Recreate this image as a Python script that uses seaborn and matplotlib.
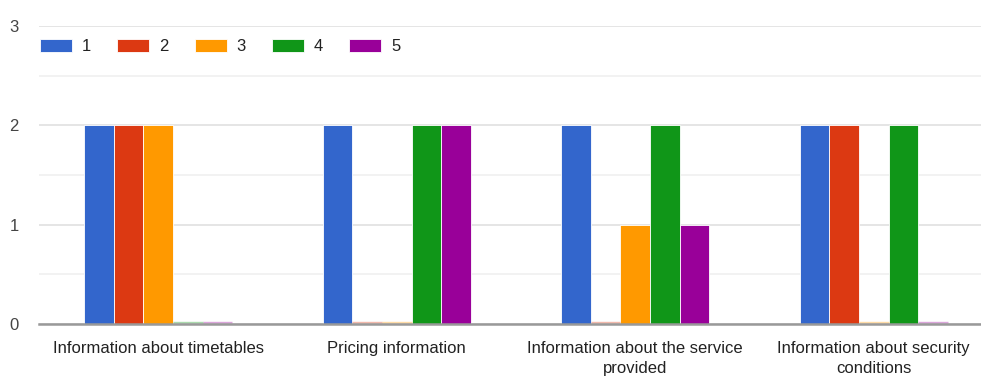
import matplotlib
matplotlib.use("Agg")
import matplotlib.pyplot as plt
import matplotlib.transforms as mtransforms
import seaborn as sns
import pandas as pd
from matplotlib.ticker import MultipleLocator

# Survey results: number of answers per rating (1-5) for each topic
categories = [
    "Information about timetables",
    "Pricing information",
    "Information about the service\nprovided",
    "Information about security\nconditions",
]
ratings = ["1", "2", "3", "4", "5"]
counts_1 = [2, 2, 2, 2]
counts_2 = [2, 0, 0, 2]
counts_3 = [2, 0, 1, 0]
counts_4 = [0, 2, 2, 2]
counts_5 = [0, 2, 1, 0]
colors = ["#3366cc", "#dc3912", "#ff9900", "#109618", "#990099"]
y_ticks = [0, 1, 2, 3]

series = [counts_1, counts_2, counts_3, counts_4, counts_5]
rows = []
for r, vals in zip(ratings, series):
    for c, v in zip(categories, vals):
        rows.append({"topic": c, "rating": r, "count": v})
df = pd.DataFrame(rows)

sns.set_theme(style="white")
plt.rcParams["font.family"] = ["Liberation Sans", "DejaVu Sans"]

fig = plt.figure(figsize=(9.81, 3.79), dpi=100)
ax = fig.add_axes([39 / 981, 55 / 379, 954 / 981, 298 / 379])

sns.barplot(
    data=df, x="topic", y="count", hue="rating",
    order=categories, hue_order=ratings, palette=colors,
    width=0.62, dodge=True, edgecolor="white", linewidth=0.6,
    saturation=1, ax=ax, legend=True,
)

# zero-count bars appear as a faint coloured line sitting on the baseline
lift = mtransforms.ScaledTranslation(0, 1.6 / 100, fig.dpi_scale_trans)
for cont, col in zip(ax.containers, colors):
    for patch in cont.patches:
        if patch.get_height() == 0:
            patch.set_edgecolor(col)
            patch.set_alpha(0.35)
            patch.set_linewidth(1.0)
            patch.set_zorder(6)
            patch.set_transform(ax.transData + lift)

ax.set_ylim(0, 3)
ax.set_xlim(-0.5, 3.5)
ax.yaxis.set_minor_locator(MultipleLocator(0.5))
ax.set_yticks(y_ticks)
ax.grid(axis="y", which="major", color="#e0e0e0", linewidth=1.2)
ax.grid(axis="y", which="minor", color="#f0f0f0", linewidth=1.2)
ax.set_axisbelow(True)
for s in ["top", "right", "left"]:
    ax.spines[s].set_visible(False)
ax.spines["bottom"].set_color("#999999")
ax.spines["bottom"].set_linewidth(1.8)
ax.spines["bottom"].set_zorder(5)

ax.set_xlabel("")
ax.set_ylabel("")
ax.tick_params(axis="x", length=0, pad=12, labelsize=12, labelcolor="#222222")
ax.tick_params(axis="y", which="both", length=0, pad=18, labelsize=12, labelcolor="#444444")
for lbl in ax.get_xticklabels():
    lbl.set_linespacing(1.45)
for lbl in ax.get_yticklabels():
    lbl.set_horizontalalignment("center")

handles, labels = ax.get_legend_handles_labels()
ax.legend(
    handles, labels, loc="upper left", ncol=5, frameon=False,
    bbox_to_anchor=(40 / 981, 1 - 39 / 379), bbox_transform=fig.transFigure,
    borderpad=0, borderaxespad=0, handlelength=1.92, handleheight=0.85,
    handletextpad=0.6, columnspacing=1.56, fontsize=12, labelcolor="#222222",
)

fig.savefig("out.png", dpi=100)
